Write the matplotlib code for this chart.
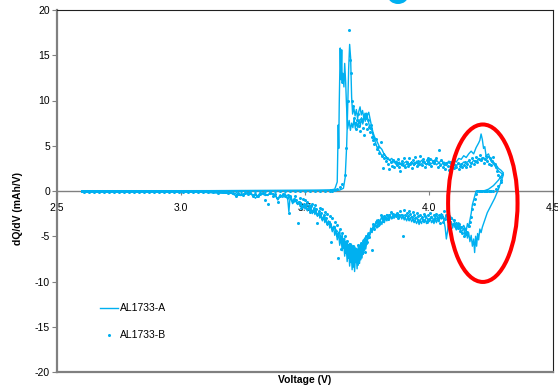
import matplotlib
matplotlib.use("Agg")
import matplotlib.pyplot as plt
from matplotlib.patches import Ellipse

plt.rcParams['font.family'] = ['Liberation Sans', 'DejaVu Sans']
plt.rcParams['axes.unicode_minus'] = False

BLUE = '#00B0F0'
GRAY = '#808080'

# ---------------- data (voltage V, dQ/dV mAh/V) ----------------
A1_charge = [(2.60, 0.0), (2.80, 0.0), (3.00, 0.02), (3.20, 0.03), (3.35, 0.05), (3.45, 0.06), (3.55, 0.08),
             (3.60, 0.10), (3.62, 0.2), (3.630, 1.0), (3.634, 7.3), (3.636, 4.7), (3.638, 9.5), (3.642, 15.8),
             (3.645, 12.3), (3.648, 15.6), (3.650, 11.9), (3.653, 13.0), (3.657, 11.5), (3.660, 14.1),
             (3.664, 12.0), (3.667, 9.7), (3.672, 6.9), (3.678, 7.8), (3.683, 6.7), (3.688, 7.5), (3.693, 7.0),
             (3.698, 8.0), (3.703, 6.9), (3.708, 7.6), (3.713, 7.0), (3.718, 7.9), (3.723, 7.2), (3.728, 8.1),
             (3.733, 7.4), (3.738, 8.3), (3.743, 7.7), (3.748, 8.6), (3.753, 8.0), (3.758, 7.4), (3.763, 6.8),
             (3.768, 7.0), (3.773, 6.3), (3.778, 5.8), (3.785, 5.3), (3.792, 4.7), (3.80, 4.4), (3.81, 3.9),
             (3.82, 4.1), (3.83, 3.6), (3.84, 3.5), (3.85, 3.2), (3.86, 3.4), (3.87, 2.9), (3.88, 3.2),
             (3.89, 2.8), (3.90, 3.1), (3.91, 3.3), (3.92, 2.9), (3.93, 3.2), (3.94, 2.8), (3.95, 3.3),
             (3.96, 3.0), (3.97, 3.4), (3.98, 3.1), (3.99, 2.9), (4.00, 3.3), (4.01, 3.5), (4.02, 3.0),
             (4.03, 3.4), (4.04, 3.1), (4.05, 2.9), (4.06, 3.2), (4.07, 3.0), (4.08, 3.3), (4.09, 3.1),
             (4.10, 3.4), (4.11, 3.2), (4.12, 3.6), (4.13, 3.5), (4.14, 3.9), (4.15, 3.7), (4.16, 4.1),
             (4.17, 4.4), (4.18, 4.1), (4.19, 4.8), (4.20, 5.3), (4.205, 5.6), (4.21, 6.3), (4.215, 5.7),
             (4.22, 4.7), (4.225, 4.9), (4.23, 3.9), (4.24, 4.1), (4.25, 3.3), (4.26, 3.0), (4.27, 2.6),
             (4.28, 2.2), (4.30, 1.8)]

A1_discharge = [(4.30, 1.8), (4.29, 1.0), (4.28, 0.2), (4.265, -0.8), (4.25, -1.6), (4.235, -2.4), (4.225, -3.2),
                (4.215, -4.0), (4.21, -4.6), (4.205, -4.2), (4.20, -5.4), (4.196, -4.7), (4.192, -6.1),
                (4.188, -5.0), (4.184, -6.8), (4.18, -5.3), (4.175, -6.1), (4.17, -4.9), (4.165, -5.6),
                (4.16, -4.6), (4.155, -5.2), (4.15, -4.4), (4.145, -4.9), (4.14, -4.1), (4.13, -4.6),
                (4.12, -3.8), (4.11, -4.3), (4.10, -3.6), (4.095, -4.1), (4.09, -3.4), (4.085, -3.9),
                (4.08, -3.2), (4.075, -4.4), (4.07, -5.3), (4.065, -4.0), (4.06, -3.3), (4.055, -2.6),
                (4.05, -3.1), (4.045, -2.8), (4.04, -3.4), (4.035, -3.0), (4.03, -3.5), (4.025, -3.1),
                (4.02, -3.6), (4.015, -3.2), (4.01, -3.5), (4.005, -3.0), (4.00, -3.4), (3.995, -3.1),
                (3.99, -3.6), (3.985, -3.2), (3.98, -3.5), (3.975, -3.1), (3.97, -3.6), (3.965, -3.3),
                (3.96, -3.7), (3.955, -3.2), (3.95, -3.6), (3.945, -3.3), (3.94, -3.5), (3.935, -3.1),
                (3.93, -3.4), (3.925, -3.0), (3.92, -3.3), (3.915, -2.9), (3.91, -3.3), (3.905, -3.0),
                (3.90, -3.2), (3.895, -2.8), (3.89, -3.1), (3.885, -2.7), (3.88, -3.0), (3.875, -2.6),
                (3.87, -2.9), (3.865, -2.6), (3.86, -3.0), (3.855, -2.7), (3.85, -3.1), (3.845, -2.8),
                (3.84, -3.2), (3.835, -2.9), (3.83, -3.3), (3.825, -3.0), (3.82, -3.5), (3.815, -3.1),
                (3.81, -3.7), (3.805, -3.3), (3.80, -3.9), (3.795, -3.4), (3.79, -4.1), (3.785, -3.6),
                (3.78, -4.3), (3.775, -3.8), (3.77, -4.6), (3.765, -4.1), (3.76, -5.2), (3.755, -4.6),
                (3.75, -5.9), (3.745, -5.0), (3.74, -6.6), (3.735, -5.4), (3.73, -7.4), (3.725, -5.8),
                (3.72, -8.0), (3.715, -6.1), (3.71, -8.6), (3.705, -6.3), (3.70, -8.9), (3.695, -6.2),
                (3.69, -8.7), (3.685, -6.0), (3.68, -8.3), (3.675, -5.9), (3.67, -7.8), (3.665, -5.6),
                (3.66, -7.2), (3.655, -5.3), (3.65, -6.6), (3.645, -5.0), (3.64, -6.0), (3.635, -4.6),
                (3.63, -5.4), (3.625, -4.3), (3.62, -4.9), (3.615, -3.9), (3.61, -4.5), (3.605, -3.6),
                (3.60, -4.1), (3.595, -3.3), (3.59, -3.8), (3.585, -3.0), (3.58, -3.5), (3.575, -2.8),
                (3.57, -3.3), (3.565, -2.6), (3.56, -3.0), (3.555, -2.4), (3.55, -2.8), (3.545, -2.2),
                (3.54, -2.6), (3.535, -2.0), (3.53, -2.5), (3.525, -1.9), (3.52, -2.3), (3.515, -1.8),
                (3.51, -2.2), (3.505, -1.7), (3.50, -2.0), (3.495, -1.5), (3.49, -1.9), (3.485, -1.3),
                (3.48, -1.7), (3.475, -1.2), (3.47, -1.5), (3.46, -1.0), (3.45, -1.4), (3.44, -0.6),
                (3.435, -2.3), (3.43, -0.8), (3.42, -0.5), (3.41, -0.7), (3.40, -0.4), (3.39, -0.9),
                (3.38, -0.5), (3.37, -0.3), (3.36, -0.2), (3.35, -0.5), (3.34, -0.3), (3.33, -0.2),
                (3.32, -0.4), (3.31, -0.7), (3.30, -0.3), (3.29, -0.6), (3.28, -0.2), (3.26, -0.3),
                (3.24, -0.4), (3.22, -0.5), (3.20, -0.2), (3.15, -0.2), (3.10, -0.15), (3.00, -0.12),
                (2.90, -0.1), (2.80, -0.1), (2.60, -0.1)]

A2_charge = [(2.60, 0.02), (3.00, 0.03), (3.30, 0.04), (3.50, 0.05), (3.60, 0.06), (3.64, 0.1), (3.655, 0.3),
             (3.662, 1.5), (3.668, 5.0), (3.672, 9.0), (3.676, 13.5), (3.680, 16.2), (3.684, 14.7),
             (3.688, 10.4), (3.692, 8.5), (3.697, 9.2), (3.702, 8.3), (3.707, 9.0), (3.712, 8.0), (3.717, 8.8),
             (3.722, 9.3), (3.727, 8.4), (3.732, 8.9), (3.737, 8.1), (3.742, 8.6), (3.747, 7.9), (3.752, 8.4),
             (3.757, 8.7), (3.762, 8.0), (3.768, 7.2), (3.774, 6.5), (3.78, 6.0), (3.79, 5.5), (3.80, 4.9),
             (3.81, 4.6), (3.82, 4.0), (3.83, 3.7), (3.84, 3.4), (3.85, 3.6), (3.86, 3.1), (3.87, 3.3),
             (3.88, 2.9), (3.89, 3.1), (3.90, 2.7), (3.91, 3.0), (3.92, 2.8), (3.93, 3.2), (3.94, 2.9),
             (3.95, 3.1), (3.96, 2.8), (3.97, 3.0), (3.98, 3.3), (3.99, 2.9), (4.00, 3.2), (4.01, 3.0),
             (4.02, 3.3), (4.03, 2.9), (4.04, 3.1), (4.05, 3.4), (4.06, 3.0), (4.07, 2.8), (4.08, 3.2),
             (4.09, 2.9), (4.10, 3.1), (4.11, 2.8), (4.12, 3.0), (4.13, 2.9), (4.14, 3.2), (4.15, 3.1),
             (4.16, 3.3), (4.17, 3.0), (4.18, 3.4), (4.19, 3.2), (4.20, 3.6), (4.21, 3.3), (4.22, 3.7),
             (4.23, 3.4), (4.24, 3.8), (4.25, 3.5), (4.26, 3.2), (4.27, 2.9), (4.28, 2.5), (4.29, 2.3),
             (4.30, 2.0)]

A2_discharge = [(4.30, 2.0), (4.28, 1.2), (4.26, 0.6), (4.24, 0.2), (4.225, 0.05), (4.21, 0.0), (4.20, 0.0),
                (4.19, 0.0), (4.185, -0.5), (4.18, -1.0), (4.175, -1.5), (4.17, -2.5), (4.165, -3.2),
                (4.16, -4.0), (4.155, -3.6), (4.15, -4.4), (4.14, -3.8), (4.13, -4.2), (4.12, -3.5),
                (4.11, -4.0), (4.10, -3.3), (4.09, -2.9), (4.08, -3.6), (4.07, -2.7), (4.06, -3.2),
                (4.05, -2.5), (4.04, -3.0), (4.03, -2.7), (4.02, -3.2), (4.01, -2.8), (4.00, -3.3),
                (3.99, -2.9), (3.98, -3.4), (3.97, -3.0), (3.96, -3.3), (3.95, -2.9), (3.94, -3.4),
                (3.93, -2.8), (3.92, -3.2), (3.91, -2.7), (3.90, -3.0), (3.89, -2.6), (3.88, -2.9),
                (3.87, -2.5), (3.86, -2.8), (3.85, -2.4), (3.84, -2.9), (3.83, -2.6), (3.82, -3.1),
                (3.81, -2.8), (3.80, -3.5), (3.79, -3.2), (3.78, -3.9), (3.77, -4.2), (3.76, -4.8),
                (3.75, -5.5), (3.745, -6.4), (3.74, -5.2), (3.735, -7.0), (3.73, -5.9), (3.725, -7.6),
                (3.72, -6.0), (3.715, -8.2), (3.71, -6.5), (3.705, -7.9), (3.70, -6.1), (3.695, -8.4),
                (3.69, -6.0), (3.685, -7.9), (3.68, -5.8), (3.675, -7.4), (3.67, -5.5), (3.665, -6.9),
                (3.66, -5.2), (3.655, -6.3), (3.65, -4.8), (3.645, -5.7), (3.64, -4.4), (3.63, -5.0),
                (3.62, -3.9), (3.61, -4.3), (3.60, -3.4), (3.59, -3.7), (3.58, -2.9), (3.57, -3.2),
                (3.56, -2.5), (3.55, -2.7), (3.54, -2.1), (3.53, -2.4), (3.52, -1.8), (3.51, -2.1),
                (3.50, -1.6), (3.49, -1.8), (3.48, -1.2), (3.47, -1.4), (3.46, -0.9), (3.45, -1.1),
                (3.44, -0.5), (3.43, -0.9), (3.42, -0.3), (3.40, -0.6), (3.39, -1.0), (3.38, -0.4),
                (3.36, -0.3), (3.34, -0.5), (3.32, -0.2), (3.30, -0.8), (3.29, -0.4), (3.27, -0.2),
                (3.24, -0.5), (3.22, -0.3), (3.18, -0.2), (3.10, -0.15), (3.00, -0.12), (2.80, -0.1),
                (2.60, -0.1)]

B_charge = [(2.60, 0.0), (2.62, 0.0), (2.64, 0.0), (2.66, 0.0), (2.68, 0.0), (2.70, 0.0), (2.72, 0.0),
            (2.74, 0.0), (2.76, 0.0), (2.78, 0.0), (2.80, 0.0), (2.82, 0.0), (2.84, 0.0), (2.86, 0.0),
            (2.88, 0.0), (2.90, 0.0), (2.92, 0.0), (2.94, 0.0), (2.96, 0.0), (2.98, 0.0), (3.00, 0.0),
            (3.02, 0.0), (3.04, 0.0), (3.06, 0.0), (3.08, 0.0), (3.10, 0.0), (3.12, 0.0), (3.14, 0.0),
            (3.16, 0.0), (3.18, 0.0), (3.20, 0.0), (3.22, 0.0), (3.24, 0.0), (3.26, 0.0), (3.28, 0.0),
            (3.30, 0.0), (3.32, 0.0), (3.34, 0.0), (3.36, 0.0), (3.38, 0.0), (3.40, 0.0), (3.42, 0.0),
            (3.44, 0.0), (3.46, 0.0), (3.48, 0.0), (3.50, 0.0), (3.52, 0.02), (3.54, 0.02), (3.56, 0.03),
            (3.58, 0.03), (3.60, 0.04), (3.61, 0.05), (3.62, 0.1), (3.63, 0.2), (3.64, 0.4), (3.65, 0.8),
            (3.66, 1.8), (3.667, 4.7), (3.672, 10.0), (3.677, 17.8), (3.682, 14.5), (3.686, 13.0),
            (3.69, 10.0), (3.694, 9.4), (3.698, 8.1), (3.702, 7.5), (3.706, 6.8), (3.71, 7.9), (3.714, 8.5),
            (3.718, 7.2), (3.722, 6.6), (3.726, 8.0), (3.73, 7.7), (3.734, 7.0), (3.738, 6.2), (3.742, 8.2),
            (3.746, 7.4), (3.75, 6.9), (3.754, 7.8), (3.758, 7.1), (3.762, 6.5), (3.766, 7.3), (3.77, 6.0),
            (3.775, 5.6), (3.78, 5.2), (3.785, 5.8), (3.79, 4.6), (3.795, 4.9), (3.80, 4.2), (3.805, 5.4),
            (3.81, 3.9), (3.815, 2.5), (3.82, 3.7), (3.825, 3.3), (3.83, 3.6), (3.835, 3.0), (3.84, 2.4),
            (3.845, 3.2), (3.85, 2.8), (3.855, 3.4), (3.86, 2.6), (3.865, 3.1), (3.87, 2.9), (3.875, 3.5),
            (3.88, 2.7), (3.885, 2.2), (3.89, 3.3), (3.895, 2.9), (3.90, 3.6), (3.905, 2.6), (3.91, 3.2),
            (3.915, 2.8), (3.92, 3.7), (3.925, 3.0), (3.93, 2.5), (3.935, 3.4), (3.94, 3.1), (3.945, 3.8),
            (3.95, 2.8), (3.955, 3.3), (3.96, 3.0), (3.965, 3.9), (3.97, 2.9), (3.975, 3.5), (3.98, 3.2),
            (3.985, 2.6), (3.99, 3.4), (3.995, 3.7), (4.00, 3.0), (4.005, 3.5), (4.01, 2.8), (4.015, 3.3),
            (4.02, 3.1), (4.025, 3.4), (4.03, 3.6), (4.035, 2.7), (4.04, 4.5), (4.045, 2.9), (4.05, 3.4),
            (4.055, 2.6), (4.06, 3.0), (4.065, 2.4), (4.07, 3.1), (4.075, 2.8), (4.08, 2.3), (4.085, 3.2),
            (4.09, 2.7), (4.095, 3.0), (4.10, 2.5), (4.105, 2.9), (4.11, 2.6), (4.115, 3.1), (4.12, 2.4),
            (4.125, 2.8), (4.13, 3.0), (4.135, 2.6), (4.14, 2.9), (4.145, 3.2), (4.15, 2.7), (4.155, 3.0),
            (4.16, 3.4), (4.165, 2.8), (4.17, 3.1), (4.175, 3.6), (4.18, 3.0), (4.185, 3.3), (4.19, 3.8),
            (4.195, 3.2), (4.20, 3.5), (4.205, 4.0), (4.21, 3.4), (4.215, 3.7), (4.22, 3.1), (4.225, 3.5),
            (4.23, 3.9), (4.235, 3.3), (4.24, 3.0), (4.245, 3.6), (4.25, 2.9), (4.255, 3.3), (4.26, 3.8),
            (4.265, 3.0), (4.27, 2.6), (4.275, 2.2), (4.28, 1.8), (4.285, 1.5), (4.29, 1.2)]

B_discharge = [(4.29, 1.0), (4.28, 0.5), (4.27, 0.2), (4.26, 0.05), (4.25, 0.0), (4.245, 0.0), (4.24, 0.0),
               (4.235, 0.0), (4.23, 0.0), (4.225, 0.0), (4.22, 0.0), (4.215, 0.0), (4.21, 0.0), (4.205, 0.0),
               (4.20, 0.0), (4.195, 0.0), (4.19, -0.3), (4.185, -0.9), (4.18, -1.4), (4.175, -2.0),
               (4.17, -2.9), (4.165, -3.4), (4.16, -3.9), (4.155, -4.5), (4.15, -4.8), (4.145, -4.2),
               (4.14, -5.0), (4.135, -4.6), (4.13, -4.0), (4.125, -4.4), (4.12, -3.7), (4.115, -4.1),
               (4.11, -3.5), (4.105, -3.9), (4.10, -3.2), (4.095, -3.6), (4.09, -3.0), (4.085, -3.4),
               (4.08, -2.8), (4.075, -3.3), (4.07, -2.6), (4.065, -3.1), (4.06, -2.2), (4.055, -3.4),
               (4.05, -2.9), (4.045, -3.5), (4.04, -2.7), (4.035, -3.2), (4.03, -2.5), (4.025, -3.0),
               (4.02, -2.6), (4.015, -3.3), (4.01, -2.9), (4.005, -2.4), (4.00, -3.1), (3.995, -2.7),
               (3.99, -3.4), (3.985, -2.8), (3.98, -2.5), (3.975, -3.2), (3.97, -2.9), (3.965, -2.6),
               (3.96, -3.3), (3.955, -2.8), (3.95, -2.4), (3.945, -3.0), (3.94, -2.7), (3.935, -2.3),
               (3.93, -2.9), (3.925, -2.5), (3.92, -2.2), (3.915, -2.8), (3.91, -2.4), (3.905, -2.6),
               (3.90, -2.1), (3.895, -5.0), (3.89, -2.7), (3.885, -2.2), (3.88, -2.6), (3.875, -3.0),
               (3.87, -2.4), (3.865, -2.8), (3.86, -2.6), (3.855, -2.5), (3.85, -2.9), (3.845, -2.3),
               (3.84, -2.7), (3.835, -3.1), (3.83, -2.6), (3.825, -3.0), (3.82, -2.8), (3.815, -3.3),
               (3.81, -3.0), (3.805, -2.6), (3.80, -3.6), (3.795, -3.2), (3.79, -3.9), (3.785, -3.4),
               (3.78, -4.2), (3.775, -3.7), (3.77, -6.5), (3.765, -4.4), (3.76, -5.1), (3.755, -4.7),
               (3.75, -5.6), (3.745, -5.0), (3.74, -6.7), (3.735, -5.5), (3.73, -6.8), (3.725, -5.8),
               (3.72, -7.2), (3.715, -6.0), (3.71, -7.5), (3.705, -6.4), (3.70, -7.0), (3.695, -6.1),
               (3.69, -7.3), (3.685, -6.5), (3.68, -5.9), (3.675, -6.7), (3.67, -5.5), (3.665, -6.3),
               (3.66, -5.0), (3.655, -5.8), (3.65, -4.6), (3.645, -6.4), (3.64, -4.2), (3.635, -7.4),
               (3.63, -3.8), (3.625, -4.4), (3.62, -3.4), (3.615, -4.0), (3.61, -3.0), (3.605, -5.6),
               (3.60, -2.8), (3.595, -3.4), (3.59, -2.5), (3.585, -3.0), (3.58, -2.3), (3.575, -2.7),
               (3.57, -2.0), (3.565, -2.4), (3.56, -1.9), (3.555, -2.2), (3.55, -3.5), (3.545, -2.0),
               (3.54, -1.6), (3.535, -1.9), (3.53, -1.4), (3.525, -1.7), (3.52, -2.3), (3.515, -1.5),
               (3.51, -1.2), (3.505, -1.6), (3.50, -1.0), (3.495, -1.4), (3.49, -0.9), (3.485, -1.9),
               (3.48, -0.8), (3.475, -1.2), (3.47, -3.5), (3.465, -1.0), (3.46, -0.6), (3.455, -0.9),
               (3.45, -1.1), (3.44, -0.5), (3.435, -2.4), (3.43, -0.4), (3.42, -0.6), (3.41, -0.3),
               (3.40, -0.5), (3.39, -1.2), (3.38, -0.3), (3.37, -0.6), (3.36, -0.2), (3.35, -1.4),
               (3.34, -1.0), (3.33, -0.2), (3.32, -0.3), (3.31, -0.6), (3.30, -0.3), (3.29, -0.5),
               (3.28, -0.2), (3.27, -0.3), (3.26, -0.2), (3.25, -0.4), (3.24, -0.3), (3.23, -0.2),
               (3.22, -0.5), (3.21, -0.2), (3.19, -0.2), (3.17, -0.15), (3.15, -0.2), (3.13, -0.15),
               (3.11, -0.1), (3.09, -0.15), (3.07, -0.1), (3.05, -0.1), (3.03, -0.1), (3.01, -0.1),
               (2.99, -0.1), (2.97, -0.1), (2.95, -0.1), (2.93, -0.1), (2.91, -0.1), (2.89, -0.1),
               (2.87, -0.1), (2.85, -0.1), (2.83, -0.1), (2.81, -0.1), (2.79, -0.1), (2.77, -0.1),
               (2.75, -0.1), (2.73, -0.1), (2.71, -0.1), (2.69, -0.1), (2.67, -0.1), (2.65, -0.1),
               (2.63, -0.1), (2.61, -0.1)]

x_ticks = [2.5, 3.0, 3.5, 4.0, 4.5]
x_tick_labels = ["2.5", "3.0", "3.5", "4.0", "4.5"]
y_ticks = [-20, -15, -10, -5, 0, 5, 10, 15, 20]
series_labels = ["AL1733-A", "AL1733-B"]

# highlight ellipse (data coordinates): centre V, centre dQ/dV, width V, height dQ/dV
highlight = (4.217, -1.35, 0.28, 17.4)

# ---------------- assemble ----------------
A_path = A1_charge + A1_discharge + A2_charge + A2_discharge
A_v = [p[0] for p in A_path]
A_q = [p[1] for p in A_path]
B_path = B_charge + B_discharge
B_v = [p[0] for p in B_path]
B_q = [p[1] for p in B_path]

fig = plt.figure(figsize=(5.58, 3.89), dpi=100)
ax = fig.add_axes([57 / 558, 17 / 389, 496 / 558, 362 / 389])

ax.plot(A_v, A_q, color=BLUE, lw=1.0, label=series_labels[0], zorder=3)
ax.plot(B_v, B_q, linestyle='none', marker='o', markersize=2.2, markeredgewidth=0,
        color=BLUE, label=series_labels[1], zorder=4)

ax.set_xlim(2.5, 4.5)
ax.set_ylim(-20, 20)

# spines
ax.spines['left'].set_color(GRAY)
ax.spines['left'].set_linewidth(1.6)
ax.spines['top'].set_color('#202020')
ax.spines['top'].set_linewidth(0.8)
ax.spines['right'].set_color('#202020')
ax.spines['right'].set_linewidth(0.8)
ax.spines['bottom'].set_position(('data', 0))
ax.spines['bottom'].set_color(GRAY)
ax.spines['bottom'].set_linewidth(1.0)
ax.spines['bottom'].set_zorder(1)
# bottom frame edge of the plot area
ax.plot([0, 1], [0, 0], transform=ax.transAxes, color=GRAY, lw=1.6, clip_on=False, zorder=5)

ax.set_xticks(x_ticks)
ax.set_xticklabels(x_tick_labels)
ax.set_yticks(y_ticks)
ax.tick_params(axis='x', direction='out', length=3, width=0.8, color=GRAY, pad=5.5,
               labelsize=7.5, labelcolor='black')
ax.tick_params(axis='y', direction='out', length=3.6, width=0.8, color=GRAY, pad=1.5,
               labelsize=7.5, labelcolor='black')
for lbl in ax.get_xticklabels():
    lbl.set_zorder(2)

ax.set_ylabel("dQ/dV (mAh/V)", fontsize=7.5, fontweight='bold')
ax.set_xlabel("Voltage (V)", fontsize=7.5, fontweight='bold')
ax.xaxis.set_label_coords(0.5, -0.008)
ax.yaxis.set_label_coords(-0.069, 0.453)

leg = ax.legend(loc='upper left', bbox_to_anchor=(0.087, 0.19), frameon=False, fontsize=7.5,
                handlelength=1.75, handletextpad=0.15, labelspacing=1.65, borderpad=0,
                borderaxespad=0, numpoints=1, markerscale=1.0)

cx, cy, w, h = highlight
ax.add_patch(Ellipse((cx, cy), w, h, fill=False, edgecolor='#FF0000', lw=2.9, zorder=6))

# partial blue badge at the top edge of the figure
fig.patches.append(Ellipse((398 / 558, 1.0 + 4 / 389), 20 / 558, 16 / 389, transform=fig.transFigure,
                           facecolor=BLUE, edgecolor='none', figure=fig))

fig.savefig("out.png", dpi=100)
